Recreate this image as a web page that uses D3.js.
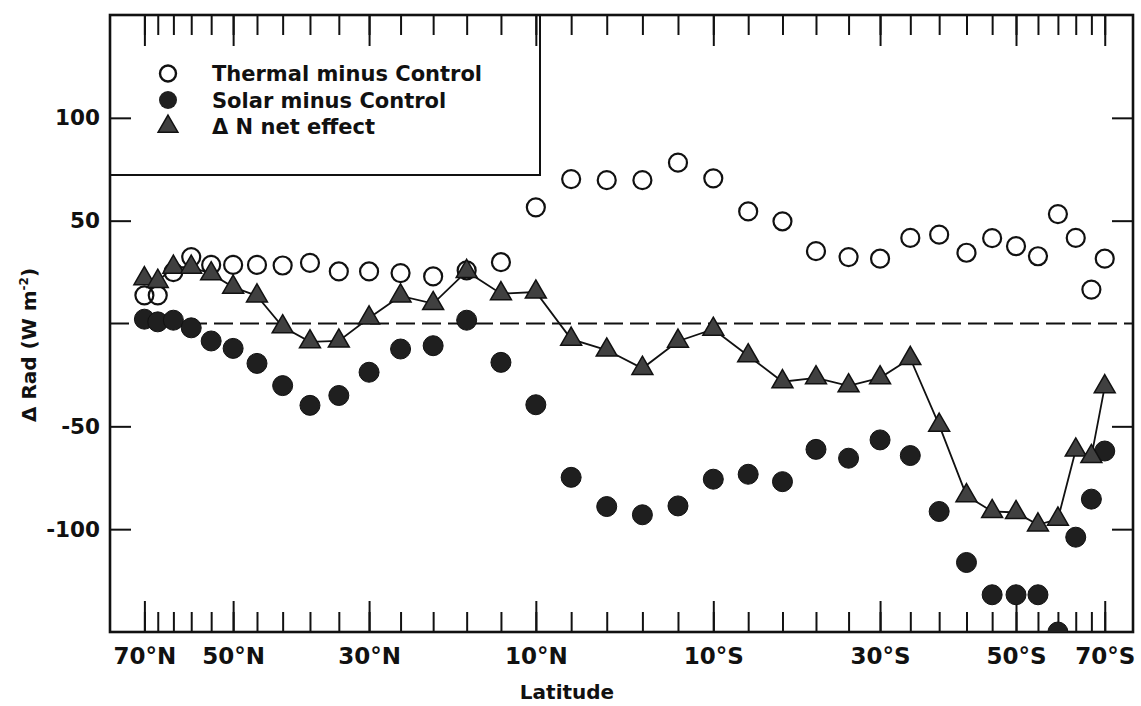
<!DOCTYPE html>
<html>
<head>
<meta charset="utf-8">
<script src="https://cdn.jsdelivr.net/npm/d3@7"></script>
<style>
  body { margin: 0; background: #fff; }
  text { font-family: "DejaVu Sans", sans-serif; font-weight: bold; fill: #111; }
</style>
</head>
<body>
<div id="chart"></div>
<script>
// latitude bands (deg, + = north), 4 degree grid
const latitudes = [70, 66, 62, 58, 54, 50, 46, 42, 38, 34, 30, 26, 22, 18, 14, 10, 6, 2,
  -2, -6, -10, -14, -18, -22, -26, -30, -34, -38, -42, -46, -50, -54, -58, -62, -66, -70];

// Thermal minus Control (W m-2)
const thermal = [13.7, 13.7, 25, 32.3, 28.5, 28.5, 28.5, 28.2, 29.5, 25.3, 25.3, 24.5, 22.9, 25.8, 29.8,
  56.5, 70.2, 69.7, 69.7, 78.2, 70.6, 54.5, 49.7, 35.2, 32.3, 31.5, 41.6, 43.2, 34.4, 41.5, 37.6, 32.7,
  53.2, 41.6, 16.5, 31.5];

// Solar minus Control (W m-2)
const solar = [2.1, 0.8, 1.6, -2.1, -8.5, -12.1, -19.4, -30.2, -39.8, -35, -23.7, -12.4, -10.8, 1.6, -18.9,
  -39.5, -74.8, -89, -93, -88.7, -75.7, -73.3, -76.9, -61.2, -65.5, -56.6, -64.2, -91.4, -116.2, -131.9,
  -131.9, -131.9, -150, -103.9, -85.4, -62];

// delta N net effect (W m-2)
const netEffect = [21.8, 20.5, 27.4, 27.4, 24.2, 17.7, 13.4, -1.6, -8.9, -8.5, 2.7, 13.4, 9.7, 25.3, 14.5,
  15.3, -7.6, -12.9, -21.8, -8.6, -2.8, -15.7, -28.3, -26.4, -30.3, -26.4, -17, -49.4, -83.7, -91.4,
  -91.9, -97.9, -95.1, -61.5, -64.7, -30.7];

const labelLats = [70, 50, 30, 10, -10, -30, -50, -70];
const yTicks = [100, 50, -50, -100];

const legendItems = ["Thermal minus Control", "Solar minus Control", "\u0394 N net effect"];

const width = 1141;
const height = 706;
const box = { left: 110, right: 1133, top: 15, bottom: 632 };
const font = "'DejaVu Sans', sans-serif";

const sinLat = (lat) => Math.sin((lat * Math.PI) / 180);
const latName = (lat) => Math.abs(lat) + "\u00b0" + (lat >= 0 ? "N" : "S");

// area weighted latitude axis (sine of latitude), north on the left
const x = d3.scaleLinear().domain([1.007, -0.995]).range([box.left, box.right]);
const y = d3.scaleLinear().domain([-150, 150]).range([box.bottom, box.top]);

const svg = d3.select("#chart").append("svg")
  .attr("width", width).attr("height", height);

svg.append("clipPath").attr("id", "plot")
  .append("rect")
  .attr("x", box.left).attr("y", box.top)
  .attr("width", box.right - box.left).attr("height", box.bottom - box.top);

// axes: all ticks point inward
const sinTicks = latitudes.map(sinLat);
const sinLabels = labelLats.map(sinLat);
const fmtLat = (s) => latName(Math.round((Math.asin(s) * 180) / Math.PI));

svg.append("g").attr("transform", `translate(0,${box.bottom})`)
  .call(d3.axisBottom(x).tickValues(sinTicks).tickSize(-20).tickFormat(""));
svg.append("g").attr("class", "xlab").attr("transform", `translate(0,${box.bottom})`)
  .call(d3.axisBottom(x).tickValues(sinLabels).tickSize(-31).tickPadding(16).tickFormat(fmtLat));
svg.append("g").attr("transform", `translate(0,${box.top})`)
  .call(d3.axisTop(x).tickValues(sinTicks).tickSize(-20).tickFormat(""));
svg.append("g").attr("transform", `translate(0,${box.top})`)
  .call(d3.axisTop(x).tickValues(sinLabels).tickSize(-31).tickFormat(""));

svg.append("g").attr("class", "ylab").attr("transform", `translate(${box.left},0)`)
  .call(d3.axisLeft(y).tickValues(yTicks).tickSize(-21).tickPadding(10).tickFormat((d) => String(d)));
svg.append("g").attr("transform", `translate(${box.right},0)`)
  .call(d3.axisRight(y).tickValues(yTicks).tickSize(-21).tickFormat(""));

svg.selectAll(".domain").remove();
svg.selectAll(".tick line").attr("stroke", "#111").attr("stroke-width", 2);
svg.selectAll(".xlab text").attr("font-size", 23);
svg.selectAll(".ylab text").attr("font-size", 21.5);
svg.selectAll(".xlab text, .ylab text").attr("fill", "#111")
  .attr("font-family", font).attr("font-weight", "bold");

// frame
svg.append("rect")
  .attr("x", box.left).attr("y", box.top)
  .attr("width", box.right - box.left).attr("height", box.bottom - box.top)
  .attr("fill", "none").attr("stroke", "#111").attr("stroke-width", 2.6);

// zero line
svg.append("line")
  .attr("x1", box.left).attr("x2", box.right)
  .attr("y1", y(0)).attr("y2", y(0))
  .attr("stroke", "#111").attr("stroke-width", 1.8)
  .attr("stroke-dasharray", "19,7");

// legend box
svg.append("rect")
  .attr("x", box.left).attr("y", box.top)
  .attr("width", 430).attr("height", 160)
  .attr("fill", "none").attr("stroke", "#111").attr("stroke-width", 2);

const plot = svg.append("g").attr("clip-path", "url(#plot)");

plot.selectAll("circle.thermal")
  .data(latitudes)
  .join("circle")
  .attr("class", "thermal")
  .attr("cx", (d) => x(sinLat(d)))
  .attr("cy", (d, i) => y(thermal[i]))
  .attr("r", 9)
  .attr("fill", "none")
  .attr("stroke", "#111")
  .attr("stroke-width", 2.2);

plot.selectAll("circle.solar")
  .data(latitudes)
  .join("circle")
  .attr("class", "solar")
  .attr("cx", (d) => x(sinLat(d)))
  .attr("cy", (d, i) => y(solar[i]))
  .attr("r", 10)
  .attr("fill", "#1f1f1f")
  .attr("stroke", "#111")
  .attr("stroke-width", 1);

const line = d3.line()
  .x((d) => x(sinLat(d)))
  .y((d, i) => y(netEffect[i]));

plot.append("path")
  .datum(latitudes)
  .attr("d", line)
  .attr("fill", "none")
  .attr("stroke", "#111")
  .attr("stroke-width", 1.8);

const tri = d3.symbol().type(d3.symbolTriangle).size(190);

plot.selectAll("path.net")
  .data(latitudes)
  .join("path")
  .attr("class", "net")
  .attr("d", tri)
  .attr("transform", (d, i) => `translate(${x(sinLat(d))},${y(netEffect[i])})`)
  .attr("fill", "#404040")
  .attr("stroke", "#111")
  .attr("stroke-width", 1.5);

// legend entries
const leg = svg.append("g");
legendItems.forEach((name, i) => {
  const ly = 73.5 + i * 26.5;
  if (i === 0) {
    leg.append("circle").attr("cx", 168).attr("cy", ly).attr("r", 8)
      .attr("fill", "none").attr("stroke", "#111").attr("stroke-width", 2.4);
  } else if (i === 1) {
    leg.append("circle").attr("cx", 168).attr("cy", ly).attr("r", 9)
      .attr("fill", "#1f1f1f");
  } else {
    leg.append("path").attr("d", d3.symbol().type(d3.symbolTriangle).size(170))
      .attr("transform", `translate(168,${ly})`)
      .attr("fill", "#404040").attr("stroke", "#111").attr("stroke-width", 1.5);
  }
  leg.append("text").attr("x", 212).attr("y", ly).attr("dy", "0.36em")
    .attr("font-size", 21).text(name);
});

// axis titles
svg.append("text")
  .attr("x", 567).attr("y", 699)
  .attr("text-anchor", "middle")
  .attr("font-size", 20)
  .text("Latitude");

const yt = svg.append("text")
  .attr("transform", "translate(36,345) rotate(-90)")
  .attr("text-anchor", "middle")
  .attr("font-size", 20);
yt.append("tspan").text("\u0394 Rad (W m");
yt.append("tspan").attr("font-size", 12).attr("dy", -8).text("-2");
yt.append("tspan").attr("dy", 8).text(")");
</script>
</body>
</html>
